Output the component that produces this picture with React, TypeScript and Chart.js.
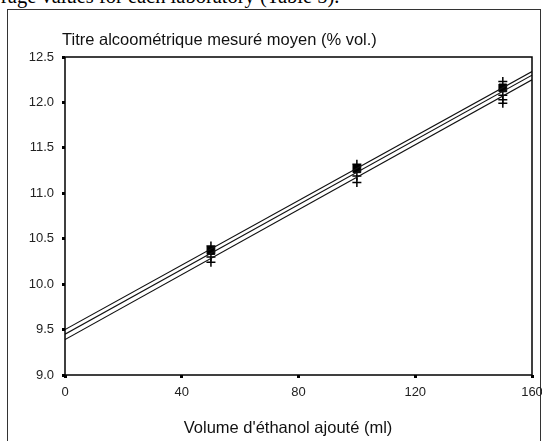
import React, { useEffect, useRef } from "react";
import { Chart, registerables } from "chart.js";

Chart.register(...registerables);

// ---- data ----
const lineX = [0, 160];
const lineUpper = [9.5, 12.34];
const lineMiddle = [9.45, 12.3];
const lineLower = [9.39, 12.25];
const meanX = [50, 100, 150];
const meanY = [10.37, 11.27, 12.16];
const labX = [50, 50, 50, 100, 100, 100, 150, 150, 150, 150];
const labY = [10.42, 10.3, 10.24, 11.32, 11.19, 11.12, 12.23, 12.08, 12.03, 11.99];
const xTicks = [0, 40, 80, 120, 160];
const yTicks = [9.0, 9.5, 10.0, 10.5, 11.0, 11.5, 12.0, 12.5];
const chartTitle = "Titre alcoométrique mesuré moyen (% vol.)";
const xTitle = "Volume d'éthanol ajouté (ml)";
const captionText = "rage values for each laboratory (Table 5).";

const FONT = '"Liberation Sans", Arial, sans-serif';

const pairs = (xs: number[], ys: number[]) => xs.map((x, i) => ({ x, y: ys[i] }));

const framePlugin = {
  id: "frame",
  afterDraw(chart: any) {
    const { ctx, chartArea } = chart;
    const { left, top, right, bottom } = chartArea;
    ctx.save();
    ctx.strokeStyle = "#000";
    ctx.lineWidth = 1.5;
    ctx.strokeRect(left, top, right - left, bottom - top);
    ctx.fillStyle = "#111";
    ctx.font = `16.5px ${FONT}`;
    ctx.textBaseline = "alphabetic";
    ctx.textAlign = "left";
    ctx.fillText(chartTitle, left - 3, 45);
    ctx.textAlign = "center";
    ctx.fillText(xTitle, 288, 433);
    ctx.restore();
  },
};

export default function App() {
  const ref = useRef<HTMLCanvasElement | null>(null);

  useEffect(() => {
    if (!ref.current) return;
    const lineDs = (data: number[]) => ({
      type: "line" as const,
      data: pairs(lineX, data),
      borderColor: "#111",
      borderWidth: 1.2,
      pointRadius: 0,
      fill: false,
      tension: 0,
    });
    const chart = new Chart(ref.current, {
      type: "scatter",
      data: {
        datasets: [
          lineDs(lineUpper) as any,
          lineDs(lineMiddle) as any,
          lineDs(lineLower) as any,
          {
            data: pairs(labX, labY),
            pointStyle: "cross",
            pointRadius: 4.5,
            borderColor: "#000",
            borderWidth: 1.5,
            backgroundColor: "#000",
          },
          {
            data: pairs(meanX, meanY),
            pointStyle: "rect",
            pointRadius: 5.5,
            borderColor: "#000",
            borderWidth: 1,
            backgroundColor: "#000",
          },
        ],
      },
      options: {
        animation: false,
        responsive: false,
        events: [],
        layout: { padding: { left: 0, top: 57, right: 10, bottom: 0 } },
        plugins: { legend: { display: false }, tooltip: { enabled: false }, title: { display: false } },
        scales: {
          x: {
            type: "linear",
            min: 0,
            max: 160,
            afterBuildTicks: (s: any) => {
              s.ticks = xTicks.map((v) => ({ value: v }));
            },
            afterFit: (s: any) => {
              s.height = 66;
              s.paddingLeft = 0;
              s.paddingRight = 0;
            },
            border: { display: false },
            grid: { display: true, drawOnChartArea: false, drawTicks: true, tickLength: 3, tickWidth: 3, tickColor: "#000" },
            ticks: { color: "#222", font: { family: FONT, size: 13 }, padding: 7, maxRotation: 0, callback: (v: any) => String(v) },
          },
          y: {
            type: "linear",
            min: 9,
            max: 12.5,
            afterBuildTicks: (s: any) => {
              s.ticks = yTicks.map((v) => ({ value: v }));
            },
            afterFit: (s: any) => {
              s.width = 65;
              s.paddingTop = 0;
              s.paddingBottom = 0;
            },
            border: { display: false },
            grid: { display: true, drawOnChartArea: false, drawTicks: true, tickLength: 3, tickWidth: 3, tickColor: "#000" },
            ticks: { color: "#222", font: { family: FONT, size: 13 }, padding: 8, callback: (v: any) => Number(v).toFixed(1) },
          },
        },
      },
      plugins: [framePlugin],
    });
    return () => chart.destroy();
  }, []);

  return (
    <div style={{ position: "fixed", left: 0, top: 0, width: 542, height: 441, overflow: "hidden", background: "#fff" }}>
      <div
        style={{
          position: "absolute",
          left: 1,
          top: -14,
          fontFamily: '"Liberation Serif", "Times New Roman", serif',
          fontSize: 20.5,
          lineHeight: 1,
          whiteSpace: "nowrap",
          color: "#000",
        }}
      >
        {captionText}
      </div>
      <div
        style={{
          position: "absolute",
          left: 7,
          top: 9,
          width: 534,
          height: 460,
          border: "1.5px solid #333",
          boxSizing: "border-box",
        }}
      />
      <canvas ref={ref} width={542} height={441} style={{ position: "absolute", left: 0, top: 0, width: 542, height: 441 }} />
    </div>
  );
}
